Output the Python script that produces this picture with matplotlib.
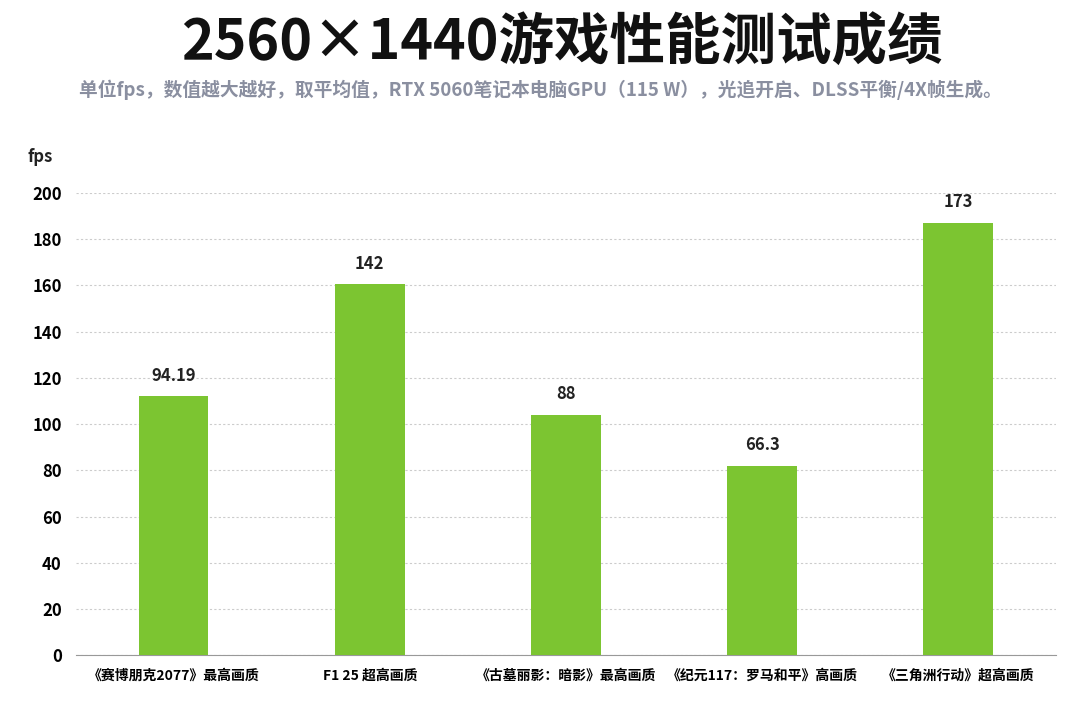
import matplotlib.pyplot as plt

plt.rcParams['font.family'] = ['Noto Sans CJK SC', 'DejaVu Sans']

games = ["《赛博朋克2077》最高画质", "F1 25 超高画质", "《古墓丽影：暗影》最高画质",
         "《纪元117：罗马和平》高画质", "《三角洲行动》超高画质"]
# bar heights as drawn in the picture (they do not match the printed labels)
bar_heights = [112, 160.5, 104, 82, 187]
value_labels = ["94.19", "142", "88", "66.3", "173"]
yticks = [0, 20, 40, 60, 80, 100, 120, 140, 160, 180, 200]

fig = plt.figure(figsize=(10.8, 7.2), dpi=100)
ax = fig.add_axes([0.07, 0.09, 0.908, 0.642])

x = range(len(games))
bars = ax.bar(x, bar_heights, width=0.355, color="#7cc531", zorder=3)
for b, lab in zip(bars, value_labels):
    ax.text(b.get_x() + b.get_width() / 2, b.get_height() + 5, lab,
            ha="center", va="bottom", fontsize=12, fontweight="bold", color="#222222")

ax.set_ylim(0, 200)
ax.set_xlim(-0.5, 4.5)
ax.set_yticks(yticks)
ax.tick_params(axis="y", length=0, labelsize=12, pad=10)
ax.tick_params(axis="x", length=0, labelsize=10, pad=10)
ax.set_xticks(list(x))
ax.set_xticklabels(games)
for t in ax.get_yticklabels() + ax.get_xticklabels():
    t.set_fontweight("bold")
ax.grid(axis="y", color="#cccccc", linestyle=(0, (2, 2)), linewidth=0.8, zorder=0)
for s in ["top", "right", "left"]:
    ax.spines[s].set_visible(False)
ax.spines["bottom"].set_color("#999999")

fig.text(0.025, 0.775, "fps", fontsize=12, fontweight="bold", color="#222222")
fig.text(0.52, 0.94, "2560×1440游戏性能测试成绩", ha="center", va="center",
         fontsize=40, fontweight="bold", color="#111111")
fig.text(0.5, 0.875, "单位fps，数值越大越好，取平均值，RTX 5060笔记本电脑GPU（115 W），光追开启、DLSS平衡/4X帧生成。",
         ha="center", va="center", fontsize=13.5, fontweight="bold", color="#8a8fa0")

fig.savefig("out.png")
